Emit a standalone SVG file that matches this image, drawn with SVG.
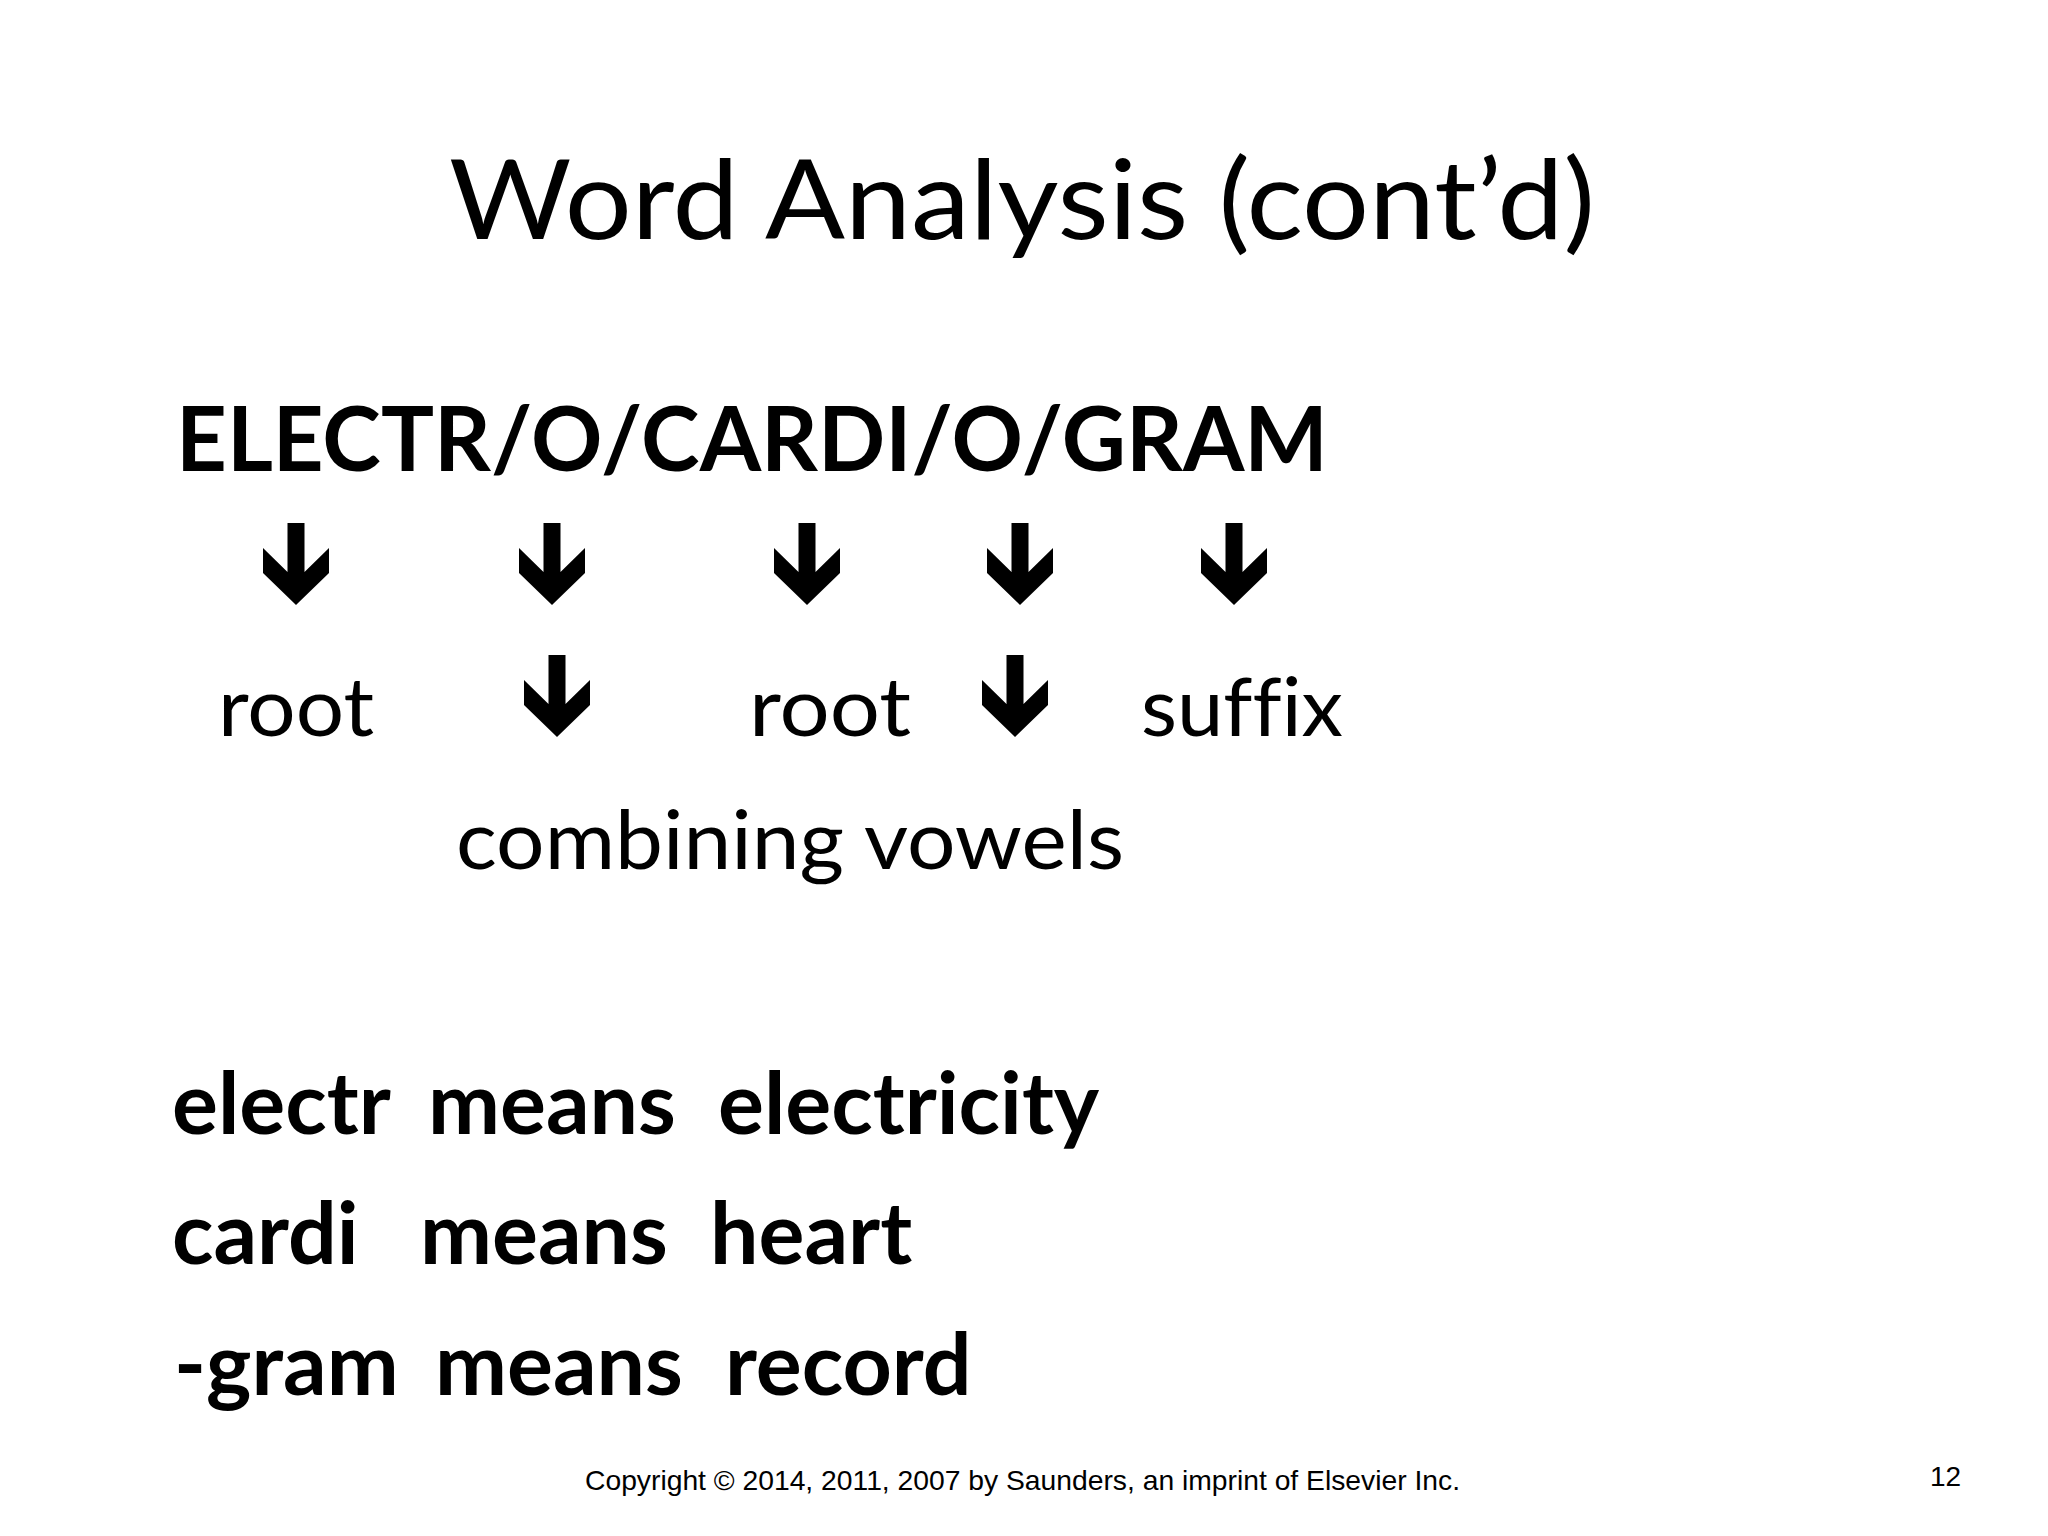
<svg xmlns="http://www.w3.org/2000/svg" xmlns:xlink="http://www.w3.org/1999/xlink" width="2048" height="1536" viewBox="0 0 2048 1536">
  <style>
    text { font-variant-ligatures: none; }
    .title { font-family: Lato, "Open Sans", sans-serif; font-size: 110px; fill: #000; }
    .head { font-family: Lato, "Open Sans", sans-serif; font-weight: bold; font-size: 89px; fill: #000; }
    .lbl { font-family: Lato, "Open Sans", sans-serif; font-size: 82px; fill: #000; }
    .mean { font-family: Lato, "Open Sans", sans-serif; font-weight: bold; font-size: 86px; fill: #000; }
    .foot { font-family: "Liberation Sans", Arial, sans-serif; font-size: 28px; fill: #000; }
  </style>
  <defs>
    <polygon id="arr" points="-8.5,0 8.5,0 8.5,49 33,25 33,50 0,82 -33,50 -33,25 -8.5,49" fill="#000"/>
  </defs>
  <rect width="2048" height="1536" fill="#fff"/>

  <g id="title">
    <text class="title" x="449" y="239" textLength="1146" lengthAdjust="spacingAndGlyphs">Word Analysis (cont’d)</text>
  </g>

  <g id="word">
    <text class="head" x="176" y="471" textLength="1152" lengthAdjust="spacingAndGlyphs">ELECTR/O/CARDI/O/GRAM</text>
  </g>

  <g id="connectors">
    <use xlink:href="#arr" transform="translate(296,523)"/>
    <use xlink:href="#arr" transform="translate(552,523)"/>
    <use xlink:href="#arr" transform="translate(807,523)"/>
    <use xlink:href="#arr" transform="translate(1020,523)"/>
    <use xlink:href="#arr" transform="translate(1234,523)"/>
    <use xlink:href="#arr" transform="translate(557,655)"/>
    <use xlink:href="#arr" transform="translate(1015,655)"/>
  </g>

  <g id="label-root1">
    <text class="lbl" x="218" y="736" textLength="156" lengthAdjust="spacingAndGlyphs">root</text>
  </g>
  <g id="label-root2">
    <text class="lbl" x="749" y="736" textLength="162" lengthAdjust="spacingAndGlyphs">root</text>
  </g>
  <g id="label-suffix">
    <text class="lbl" x="1141" y="736" textLength="202" lengthAdjust="spacingAndGlyphs">suffix</text>
  </g>
  <g id="label-combining">
    <text class="lbl" x="456" y="869" textLength="668" lengthAdjust="spacingAndGlyphs">combining vowels</text>
  </g>

  <g id="meanings">
    <text class="mean" y="1134"><tspan x="172">electr</tspan><tspan x="428">means</tspan><tspan x="718">electricity</tspan></text>
    <text class="mean" y="1264"><tspan x="172">cardi</tspan><tspan x="420">means</tspan><tspan x="710">heart</tspan></text>
    <text class="mean" y="1395"><tspan x="174">-gram</tspan><tspan x="435">means</tspan><tspan x="725">record</tspan></text>
  </g>

  <g id="footer">
    <text class="foot" x="585" y="1490" textLength="875" lengthAdjust="spacingAndGlyphs">Copyright © 2014, 2011, 2007 by Saunders, an imprint of Elsevier Inc.</text>
    <text class="foot" x="1930" y="1486">12</text>
  </g>
</svg>
